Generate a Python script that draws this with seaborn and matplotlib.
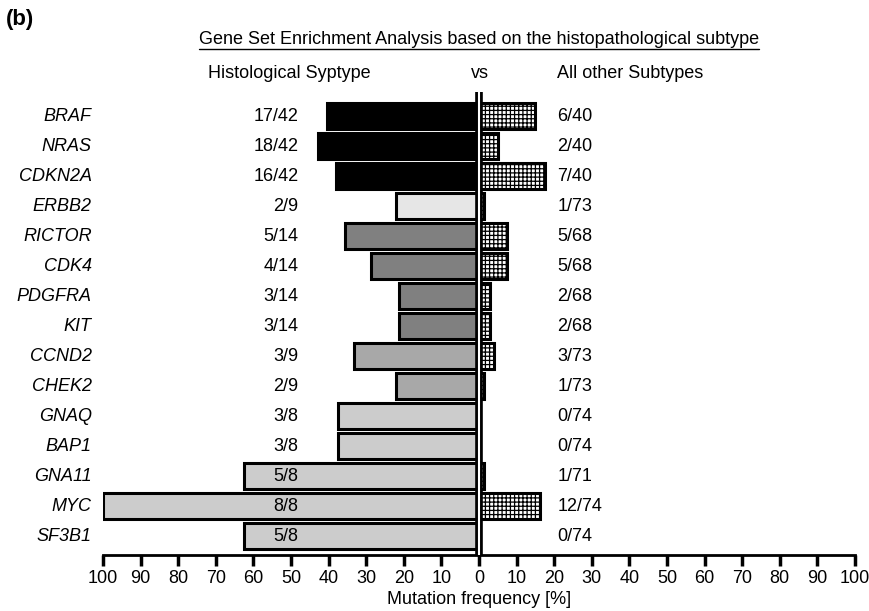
import matplotlib
matplotlib.use("Agg")
import matplotlib.pyplot as plt
import seaborn as sns
import pandas as pd

genes = ["BRAF", "NRAS", "CDKN2A", "ERBB2", "RICTOR", "CDK4", "PDGFRA", "KIT",
         "CCND2", "CHEK2", "GNAQ", "BAP1", "GNA11", "MYC", "SF3B1"]
left_pct = [40.5, 42.9, 38.1, 22.2, 35.7, 28.6, 21.4, 21.4, 33.3, 22.2, 37.5, 37.5, 62.5, 100.0, 62.5]
right_pct = [15.0, 5.0, 17.5, 1.4, 7.4, 7.4, 2.9, 2.9, 4.1, 1.4, 0.0, 0.0, 1.4, 16.2, 0.0]
left_labels = ["17/42", "18/42", "16/42", "2/9", "5/14", "4/14", "3/14", "3/14",
               "3/9", "2/9", "3/8", "3/8", "5/8", "8/8", "5/8"]
right_labels = ["6/40", "2/40", "7/40", "1/73", "5/68", "5/68", "2/68", "2/68",
                "3/73", "1/73", "0/74", "0/74", "1/71", "12/74", "0/74"]
bar_colors = ["#000000", "#000000", "#000000", "#e6e6e6", "#808080", "#808080", "#808080", "#808080",
              "#a8a8a8", "#a8a8a8", "#cccccc", "#cccccc", "#cccccc", "#cccccc", "#cccccc"]
x_ticks = [-100, -90, -80, -70, -60, -50, -40, -30, -20, -10, 0, 10, 20, 30, 40, 50, 60, 70, 80, 90, 100]
x_tick_labels = ["100", "90", "80", "70", "60", "50", "40", "30", "20", "10", "0",
                 "10", "20", "30", "40", "50", "60", "70", "80", "90", "100"]

df = pd.DataFrame({"gene": genes, "left": [-v for v in left_pct], "right": right_pct})

sns.set_theme(style="white")
plt.rcParams["font.family"] = ["Liberation Sans", "DejaVu Sans"]
plt.rcParams["hatch.linewidth"] = 0.9
plt.rcParams["text.color"] = "black"
plt.rcParams["axes.labelcolor"] = "black"
plt.rcParams["xtick.color"] = "black"

FS = 13

fig = plt.figure(figsize=(8.7, 6.11), dpi=100)
ax = fig.add_axes([103 / 870, 1 - 555 / 611, (855 - 103) / 870, (555 - 92) / 611])

sns.barplot(data=df, y="gene", x="left", hue="gene", palette=bar_colors, legend=False,
            orient="h", width=0.85, edgecolor="black", linewidth=2.2, ax=ax)
n_left = len(ax.patches)
sns.barplot(data=df, y="gene", x="right", color="white", orient="h", width=0.85,
            edgecolor="black", linewidth=2.2, ax=ax)
for p in ax.patches[n_left:]:
    p.set_facecolor("white")
    p.set_hatch("++++")

ax.set_xlim(-100, 100)
ax.set_ylim(14.633, -0.8)
ax.axvline(0, color="black", lw=5.5, zorder=5)
ax.axvline(0, color="white", lw=1.5, zorder=6)

for s in ["top", "right", "left"]:
    ax.spines[s].set_visible(False)
ax.spines["bottom"].set_linewidth(2)
ax.spines["bottom"].set_color("black")
ax.set_xticks(x_ticks)
ax.set_xticklabels(x_tick_labels)
ax.tick_params(axis="x", bottom=True, direction="out", length=8, width=2.5, labelsize=FS, pad=3,
               colors="black")
ax.set_yticks([])
ax.set_ylabel("")
ax.set_xlabel("Mutation frequency [%]", fontsize=FS, labelpad=3)

for i, g in enumerate(genes):
    ax.text(-103, i, g, ha="right", va="center", fontsize=FS, style="italic", clip_on=False)
    ax.text(-48, i, left_labels[i], ha="right", va="center", fontsize=FS, zorder=7)
    ax.text(20.8, i, right_labels[i], ha="left", va="center", fontsize=FS)

fig.text(289 / 870, 1 - 74 / 611, "Histological Syptype", ha="center", va="center", fontsize=FS)
fig.text(480 / 870, 1 - 74 / 611, "vs", ha="center", va="center", fontsize=FS)
fig.text(630 / 870, 1 - 74 / 611, "All other Subtypes", ha="center", va="center", fontsize=FS)
title = fig.text(479 / 870, 1 - 40 / 611, "Gene Set Enrichment Analysis based on the histopathological subtype",
                 ha="center", va="center", fontsize=FS)
fig.text(6 / 870, 1 - 20 / 611, "(b)", ha="left", va="center", fontsize=16, fontweight="bold")

fig.canvas.draw()
bb = title.get_window_extent(fig.canvas.get_renderer())
inv = fig.transFigure.inverted()
(x0, y0), (x1, y1) = inv.transform([(bb.x0, bb.y0), (bb.x1, bb.y1)])
fig.add_artist(plt.Line2D([x0, x1], [y0 - 0.001, y0 - 0.001], color="black", lw=1, transform=fig.transFigure))

fig.savefig("out.png", dpi=100)
